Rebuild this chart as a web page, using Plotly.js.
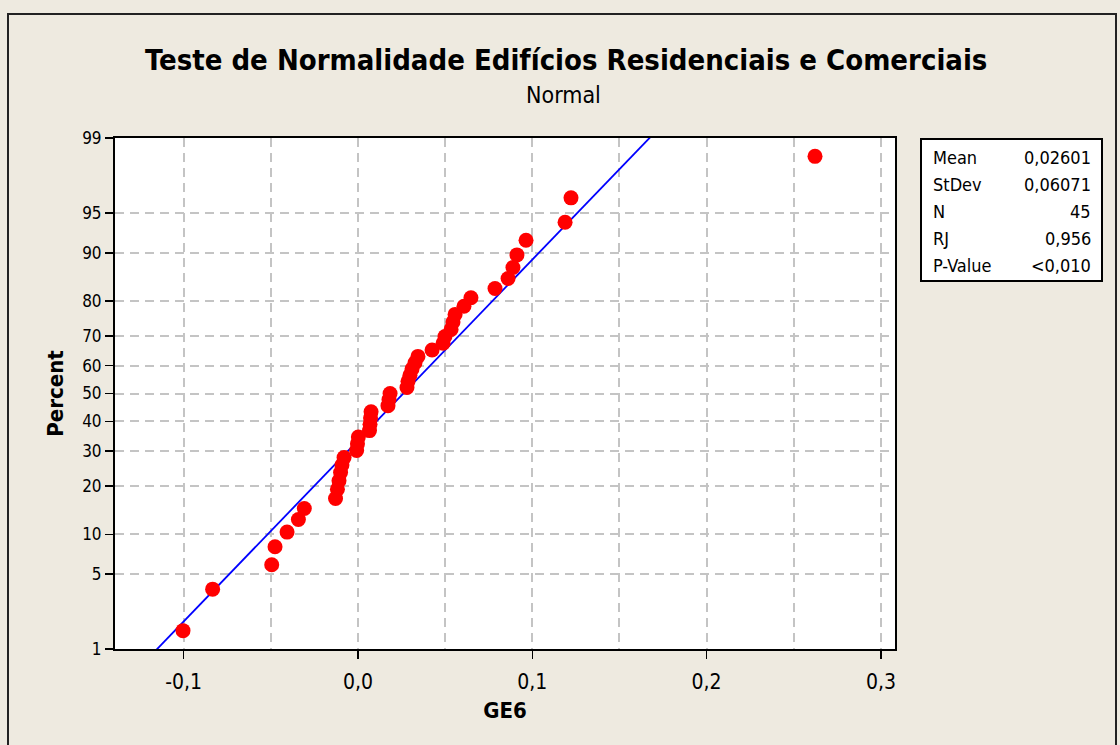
<!DOCTYPE html>
<html>
<head>
<meta charset="utf-8">
<script src="https://cdn.plot.ly/plotly-3.0.1.min.js"></script>
<style>
  html, body { margin: 0; padding: 0; background: #EEEAE0; }
  #chart { width: 1120px; height: 745px; }
</style>
</head>
<body>
<div id="chart"></div>
<script>
// ---- data ----
const xValues = [
  -0.1004, -0.0834, -0.0495, -0.0476, -0.0407, -0.0342, -0.0308,
  -0.0129, -0.0118, -0.0109, -0.0100, -0.0092, -0.0080,
  -0.0008, -0.0003, 0.0002,
  0.0066, 0.0069, 0.0072, 0.0075,
  0.0172, 0.0178, 0.0184,
  0.0281, 0.0287, 0.0298, 0.0310, 0.0327, 0.0344,
  0.0425, 0.0488, 0.0499, 0.0534, 0.0545, 0.0557, 0.0608, 0.0648,
  0.0786, 0.0861, 0.0889, 0.0912, 0.0964, 0.1188, 0.1222,
  0.2622
];
const percentValues = [
  1.542, 3.744, 5.947, 8.150, 10.352, 12.555, 14.758, 16.960, 19.163,
  21.366, 23.568, 25.771, 27.974, 30.176, 32.379, 34.581, 36.784, 38.987,
  41.189, 43.392, 45.595, 47.797, 50.000, 52.203, 54.405, 56.608, 58.811,
  61.013, 63.216, 65.419, 67.621, 69.824, 72.026, 74.229, 76.432, 78.634,
  80.837, 83.040, 85.242, 87.445, 89.648, 91.850, 94.053, 96.256, 98.458
];
const yTickPercents = [1, 5, 10, 20, 30, 40, 50, 60, 70, 80, 90, 95, 99];
const xTickVals = [-0.1, 0.0, 0.1, 0.2, 0.3];
const xTickLabels = ['-0,1', '0,0', '0,1', '0,2', '0,3'];
const statLabels = ['Mean', 'StDev', 'N', 'RJ', 'P-Value'];
const statValues = ['0,02601', '0,06071', '45', '0,956', '<0,010'];
const meanVal = 0.02601;
const sdVal = 0.06071;

// ---- inverse standard normal (Acklam) ----
function invNorm(p) {
  const a = [-3.969683028665376e+01, 2.209460984245205e+02, -2.759285104469687e+02,
             1.383577518672690e+02, -3.066479806614716e+01, 2.506628277459239e+00];
  const b = [-5.447609879822406e+01, 1.615858368580409e+02, -1.556989798598866e+02,
             6.680131188771972e+01, -1.328068155288572e+01];
  const c = [-7.784894002430293e-03, -3.223964580411365e-01, -2.400758277161838e+00,
             -2.549671010233784e+00, 4.374664141464968e+00, 2.938163982698783e+00];
  const d = [7.784695709041462e-03, 3.224671290700398e-01, 2.445134137142996e+00,
             3.754408661907416e+00];
  const pl = 0.02425, ph = 1 - pl;
  let q, r;
  if (p < pl) {
    q = Math.sqrt(-2 * Math.log(p));
    return (((((c[0]*q+c[1])*q+c[2])*q+c[3])*q+c[4])*q+c[5]) /
           ((((d[0]*q+d[1])*q+d[2])*q+d[3])*q+1);
  } else if (p <= ph) {
    q = p - 0.5; r = q * q;
    return (((((a[0]*r+a[1])*r+a[2])*r+a[3])*r+a[4])*r+a[5])*q /
           (((((b[0]*r+b[1])*r+b[2])*r+b[3])*r+b[4])*r+1);
  } else {
    q = Math.sqrt(-2 * Math.log(1 - p));
    return -(((((c[0]*q+c[1])*q+c[2])*q+c[3])*q+c[4])*q+c[5]) /
            ((((d[0]*q+d[1])*q+d[2])*q+d[3])*q+1);
  }
}

const zPts = percentValues.map(p => invNorm(p / 100));
const zTicks = yTickPercents.map(p => invNorm(p / 100));
const zLo = invNorm(0.01), zHi = invNorm(0.99);

// fitted line from mean & stdev
const zLine = [zLo - 0.5, zHi + 0.5];
const xLine = zLine.map(z => meanVal + z * sdVal);

// geometry helpers (pixels -> paper)
const L = 115, R = 895, T = 138, B = 649, W = 1120, H = 745;
const px = v => (v - L) / (R - L);
const py = v => (B - v) / (B - T);

const FONT = '"DejaVu Sans Condensed", "DejaVu Sans", Tahoma, sans-serif';

const traces = [
  {
    x: xLine, y: zLine, mode: 'lines', type: 'scatter',
    line: { color: '#0000FF', width: 1.8 }, hoverinfo: 'skip', showlegend: false
  },
  {
    x: xValues, y: zPts, mode: 'markers', type: 'scatter',
    marker: { color: '#FF0000', size: 15, line: { width: 0 } }, showlegend: false
  }
];

const annotations = [];
statLabels.forEach((lab, i) => {
  const yy = 157 + i * 27;
  annotations.push({
    text: lab, xref: 'paper', yref: 'paper', x: px(931), y: py(yy),
    xanchor: 'left', yanchor: 'middle', showarrow: false,
    font: { family: FONT, size: 18, color: '#000' }
  });
  annotations.push({
    text: statValues[i], xref: 'paper', yref: 'paper', x: px(1093), y: py(yy),
    xanchor: 'right', yanchor: 'middle', showarrow: false,
    font: { family: FONT, size: 18, color: '#000' }
  });
});
annotations.push({
  text: 'Normal', xref: 'paper', yref: 'paper', x: px(563), y: py(95),
  xanchor: 'center', yanchor: 'middle', showarrow: false,
  font: { family: FONT, size: 23, color: '#000' }
});
annotations.push({
  text: '<b>Teste de Normalidade Edifícios Residenciais e Comerciais</b>',
  xref: 'paper', yref: 'paper', x: px(566), y: py(60),
  xanchor: 'center', yanchor: 'middle', showarrow: false,
  font: { family: FONT, size: 29, color: '#000' }
});

const shapes = [
  // stats box
  { type: 'rect', xref: 'paper', yref: 'paper',
    x0: px(921), x1: px(1102), y0: py(139), y1: py(281),
    fillcolor: '#FFFFFF', line: { color: '#000', width: 2 }, layer: 'below' },
  // outer frame
  { type: 'rect', xref: 'paper', yref: 'paper',
    x0: px(8), x1: px(1116), y0: py(14), y1: py(760),
    line: { color: '#222', width: 2 }, fillcolor: 'rgba(0,0,0,0)' }
];

const layout = {
  width: W, height: H,
  paper_bgcolor: '#EEEAE0', plot_bgcolor: '#FFFFFF',
  margin: { l: L, r: W - R, t: T, b: H - B, pad: 0 },
  showlegend: false,
  xaxis: {
    range: [(L - 358) / 1743, (R - 358) / 1743],
    tickvals: xTickVals, ticktext: xTickLabels,
    ticks: 'outside', ticklen: 8, tickwidth: 1.5, tickcolor: '#000',
    ticklabelstandoff: 5,
    showline: true, linecolor: '#000', linewidth: 2, mirror: true,
    showgrid: true, gridcolor: '#C4C4C4', gridwidth: 2, griddash: '9px,6px',
    minor: { dtick: 0.05, tick0: -0.1, showgrid: true, gridcolor: '#C4C4C4',
             gridwidth: 2, griddash: '9px,6px', ticks: '' },
    zeroline: false,
    tickfont: { family: FONT, size: 21, color: '#000' },
    title: { text: '<b>GE6</b>', font: { family: FONT, size: 22, color: '#000' }, standoff: 9 }
  },
  yaxis: {
    range: [zLo, zHi],
    tickvals: zTicks, ticktext: yTickPercents.map(String),
    ticks: 'outside', ticklen: 8, tickwidth: 1.5, tickcolor: '#000',
    showline: true, linecolor: '#000', linewidth: 2, mirror: true,
    showgrid: true, gridcolor: '#C4C4C4', gridwidth: 2, griddash: '9px,6px',
    zeroline: false,
    tickfont: { family: FONT, size: 17, color: '#000' },
    title: { text: '<b>Percent</b>', font: { family: FONT, size: 22, color: '#000' }, standoff: 12 }
  },
  shapes: shapes,
  annotations: annotations
};

Plotly.newPlot('chart', traces, layout, { displayModeBar: false, staticPlot: true });
</script>
</body>
</html>
